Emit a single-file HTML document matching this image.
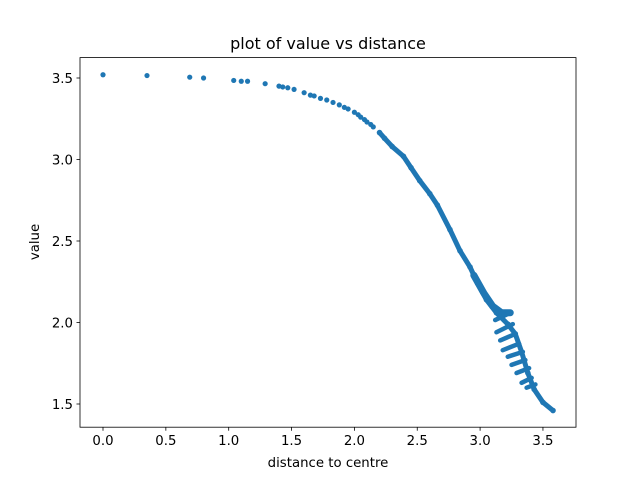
<!DOCTYPE html>
<html><head><meta charset="utf-8"><style>
body{margin:0;background:#fff}
svg{display:block;font-family:"DejaVu Sans","Liberation Sans",sans-serif}
</style></head><body>
<svg id="chart" width="640" height="480" viewBox="0 0 640 480">
<rect x="0" y="0" width="640" height="480" fill="#fff"/>
<g id="marks"></g>
<rect x="80" y="57.6" width="496" height="369.6" fill="none" stroke="#000" stroke-width="0.8"/>
<g id="axes"></g>
<text x="328" y="49" text-anchor="middle" font-size="16">plot of value vs distance</text>
<text x="328" y="467" text-anchor="middle" font-size="13.3">distance to centre</text>
<text x="0" y="0" transform="translate(39,242) rotate(-90)" text-anchor="middle" font-size="13.3">value</text>
</svg>
<script>
const sparseX=[0,0.35,0.69,0.8,1.04,1.1,1.15,1.29,1.4,1.43,1.47,1.52,1.6,1.65,1.68,1.73,1.78,1.83,1.88,1.92,1.95,2.0,2.03,2.05,2.08,2.1,2.13,2.15];
const sparseY=[3.52,3.515,3.505,3.50,3.485,3.48,3.48,3.465,3.45,3.445,3.44,3.43,3.41,3.395,3.39,3.375,3.365,3.35,3.335,3.32,3.31,3.29,3.275,3.26,3.245,3.23,3.215,3.2];
const curveX=[2.2,2.24,2.3,2.39,2.45,2.52,2.6,2.66,2.76,2.84,2.92,2.98,3.05,3.13,3.22,3.28,3.33,3.38,3.43,3.5,3.58];
const curveY=[3.165,3.13,3.08,3.02,2.95,2.87,2.79,2.72,2.57,2.44,2.34,2.24,2.14,2.06,1.99,1.93,1.82,1.69,1.59,1.51,1.46];
const bandX=[2.95,3.03,3.1,3.17,3.24];
const bandY=[2.29,2.18,2.1,2.06,2.06];
const stripeLeftX=[3.12,3.13,3.16,3.18,3.22,3.25,3.29,3.33,3.37];
const stripeLeftY=[2.015,1.94,1.89,1.83,1.79,1.74,1.69,1.63,1.60];
const stripeRightX=[3.24,3.26,3.28,3.31,3.34,3.36,3.39,3.41,3.44];
const stripeRightY=[2.06,1.99,1.93,1.87,1.82,1.77,1.72,1.66,1.62];
const xTicks=[0,0.5,1.0,1.5,2.0,2.5,3.0,3.5];
const xTickLabels=["0.0","0.5","1.0","1.5","2.0","2.5","3.0","3.5"];
const yTicks=[1.5,2.0,2.5,3.0,3.5];
const yTickLabels=["1.5","2.0","2.5","3.0","3.5"];

const C='#1f77b4';
const sx=v=>103+v*125.7;
const sy=v=>404-(v-1.5)*163;
const NS='http://www.w3.org/2000/svg';
const marks=document.getElementById('marks');
const axes=document.getElementById('axes');
function mk(tag,attrs,parent){const e=document.createElementNS(NS,tag);for(const k in attrs)e.setAttribute(k,attrs[k]);parent.appendChild(e);return e;}

function poly(xs,ys,w,name){
  const p=mk('polyline',{points:xs.map((x,i)=>sx(x)+','+sy(ys[i])).join(' '),fill:'none',stroke:C,'stroke-width':w,'stroke-linecap':'round','stroke-linejoin':'round'},marks);
  
  
}
poly(curveX,curveY,5,'dense-curve');
poly(bandX,bandY,7,'dense-band');
for(let i=0;i<stripeLeftX.length;i++){
  const p=mk('line',{x1:sx(stripeLeftX[i]),y1:sy(stripeLeftY[i]),x2:sx(stripeRightX[i]),y2:sy(stripeRightY[i]),stroke:C,'stroke-width':4.5,'stroke-linecap':'round'},marks);
  
  
}
for(let i=0;i<sparseX.length;i++){
  const c=mk('circle',{cx:sx(sparseX[i]),cy:sy(sparseY[i]),r:2.6,fill:C},marks);
  
  
}
for(let i=0;i<curveX.length;i++){
  const c=mk('circle',{cx:sx(curveX[i]),cy:sy(curveY[i]),r:2.8,fill:C},marks);
  
  
}
xTicks.forEach((t,i)=>{
  const l=mk('line',{x1:sx(t),x2:sx(t),y1:427.2,y2:430.7,stroke:'#000','stroke-width':0.8},axes);
  
  
  const tx=mk('text',{x:sx(t),y:445,'text-anchor':'middle','font-size':13.3},axes);
  tx.textContent=xTickLabels[i];
  
  
});
yTicks.forEach((t,i)=>{
  const l=mk('line',{x1:76.5,x2:80,y1:sy(t),y2:sy(t),stroke:'#000','stroke-width':0.8},axes);
  
  
  const tx=mk('text',{x:73,y:sy(t)+5,'text-anchor':'end','font-size':13.3},axes);
  tx.textContent=yTickLabels[i];
  
  
});
</script>
</body></html>
